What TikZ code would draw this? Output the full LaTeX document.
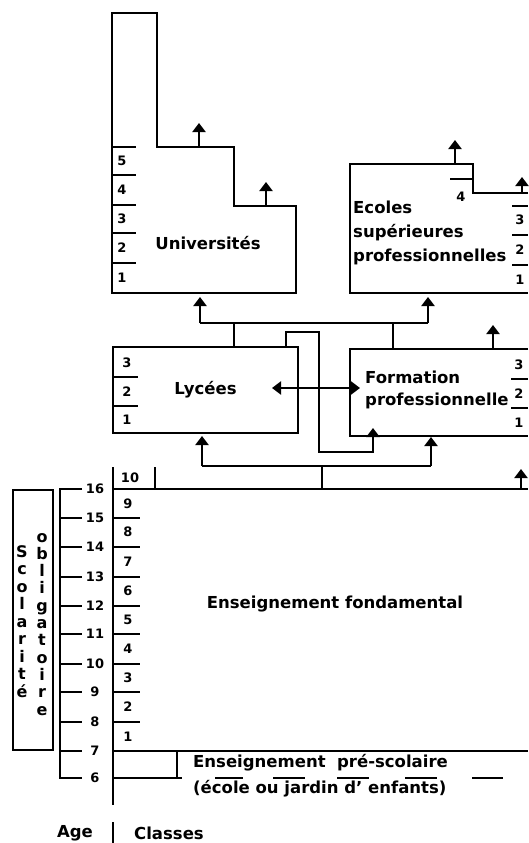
\documentclass[tikz,border=0pt]{standalone}
\usepackage{fontspec}
\setmainfont{DejaVu Sans}
\usetikzlibrary{arrows.meta}
\tikzset{
  wall/.style={line width=2.2pt},
  up/.style={line width=2.2pt, -{Triangle[width=13pt,length=9pt]}},
  both/.style={line width=2.2pt, {Triangle[width=13pt,length=9pt]}-{Triangle[width=13pt,length=9pt]}},
  title/.style={font=\bfseries\fontsize{16.5}{23}\selectfont, inner sep=0pt},
  num/.style={font=\bfseries\fontsize{13}{15}\selectfont, inner sep=0pt},
  lett/.style={font=\bfseries\fontsize{16}{17}\selectfont, inner sep=0pt, anchor=base},
}
\begin{document}
\begin{tikzpicture}[x=1pt, y=-1pt]
    \useasboundingbox (0,0) rectangle (528,843);
    % Universites
    \draw[wall] (112,13) -- (157,13) -- (157,147) -- (234,147) -- (234,206) -- (296,206) -- (296,293) -- (112,293) -- cycle;
    \foreach \y in {147,175,205,233,263} \draw[wall] (112,\y) -- (136,\y);
    \foreach \n/\y in {5/161,4/190,3/219,2/248,1/278} \node[num] at (122,\y) {\n};
    \node[title] (univ) at (208,243) {Universités};
    \coordinate (univA) at (199,147);
    \coordinate (univB) at (266,206);
    \draw[up] (univA) -- ++(0,-24);
    \draw[up] (univB) -- ++(0,-24);
    % Ecoles superieures
    \draw[wall] (528,193) -- (473,193) -- (473,164) -- (350,164) -- (350,293) -- (528,293);
    \draw[wall] (450,179) -- (473,179);
    \node[num] at (461,197) {4};
    \foreach \y in {206,235,265} \draw[wall] (512,\y) -- (528,\y);
    \foreach \n/\y in {3/220,2/250,1/280} \node[num] at (520,\y) {\n};
    \node[title, anchor=base west] (ecol1) at (353,213) {Ecoles};
    \node[title, anchor=base west] (ecol2) at (353,237) {supérieures};
    \node[title, anchor=base west] (ecol3) at (353,261) {professionnelles};
    \coordinate (ecolA) at (455,164);
    \coordinate (ecolB) at (522,193);
    \draw[up] (ecolA) -- ++(0,-24);
    \draw[up] (ecolB) -- ++(0,-16);
    % Lycees
    \node[draw, wall, minimum width=185pt, minimum height=86pt, title] (lyc) at (205.5,390) {Lycées};
    \foreach \y in {377,406} \draw[wall] (113,\y) -- (138,\y);
    \foreach \n/\y in {3/363,2/392,1/420} \node[num] at (127,\y) {\n};
    % Formation professionnelle
    \draw[wall] (528,349) -- (350,349) -- (350,436) -- (528,436);
    \foreach \y in {379,408} \draw[wall] (511,\y) -- (528,\y);
    \foreach \n/\y in {3/365,2/394,1/423} \node[num] at (519,\y) {\n};
    \node[title, anchor=base west] (form1) at (365,383) {Formation};
    \node[title, anchor=base west] (form2) at (365,405) {professionnelle};
    \coordinate (formA) at (493,349);
    \draw[up] (formA) -- ++(0,-24);
    % connectors between levels
    \coordinate (jL) at (200,323);
    \coordinate (jR) at (428,323);
    \coordinate (univIn) at (200,297);
    \coordinate (ecolIn) at (428,297);
    \draw[wall] (jL) -- (jR);
    \draw[up] (jL) -- (univIn);
    \draw[up] (jR) -- (ecolIn);
    \draw[wall] (234,347) -- (234,323);
    \draw[wall] (393,349) -- (393,323);
    \draw[up] (286,347) |- (319,332) |- (373,452) -- (373,428);
    \draw[both] (272,388) -- (360,388);
    \coordinate (kL) at (202,466);
    \coordinate (kR) at (431,466);
    \draw[wall] (kL) -- (kR);
    \draw[up] (kL) -- (202,436);
    \draw[up] (kR) -- (431,437);
    \draw[wall] (322,466) -- (322,489);
    % Enseignement fondamental
    \draw[wall] (113,467) -- (113,805);
    \draw[wall] (155,467) -- (155,489);
    \draw[wall] (113,489) -- (528,489);
    \draw[wall] (113,751) -- (528,751);
    \foreach \y in {518,547,577,606,634,664,692,722} \draw[wall] (113,\y) -- (140,\y);
    \node[num] at (130,478) {10};
    \foreach \n/\y in {9/504,8/532,7/562,6/591,5/620,4/649,3/678,2/707,1/737} \node[num] at (128,\y) {\n};
    \draw[up] (521,489) -- (521,469);
    \node[title] (fond) at (335,604) {Enseignement fondamental};
    % Age
    \draw[wall] (82,489) -- (60,489) -- (60,778) -- (82,778);
    \foreach \a/\y in {16/489,15/518,14/547,13/577,12/606,11/634,10/664,9/692,8/722,7/751,6/778} {
        \draw[wall] (60,\y) -- (82,\y);
        \node[num] at (95,\y) {\a};
    }
    % Scolarite obligatoire
    \draw[wall] (13,490) rectangle (53,750);
    \foreach \c [count=\i from 0] in {S,c,o,l,a,r,i,t,é} \node[lett] at (22,557+17.5*\i) {\c};
    \foreach \c [count=\i from 0] in {o,b,l,i,g,a,t,o,i,r,e} \node[lett] at (42,542+17.3*\i) {\c};
    % Enseignement pre-scolaire
    \draw[wall] (113,778) -- (182,778);
    \draw[wall] (177,751) -- (177,778);
    \node[title, anchor=base west] (pres1) at (193,767) {Enseignement\ \ pré-scolaire};
    \node[title, anchor=base west] (pres2) at (193,793) {(école ou jardin d' enfants)};
    \foreach \a/\b in {215/243,273/305,337/369,405/437,472/503} \draw[wall] (\a,778) -- (\b,778);
    % legend
    \draw[wall] (113,822) -- (113,843);
    \node[title] (age) at (75,833) {Age};
    \node[title] (cls) at (169,833) {Classes};
\end{tikzpicture}
\end{document}
